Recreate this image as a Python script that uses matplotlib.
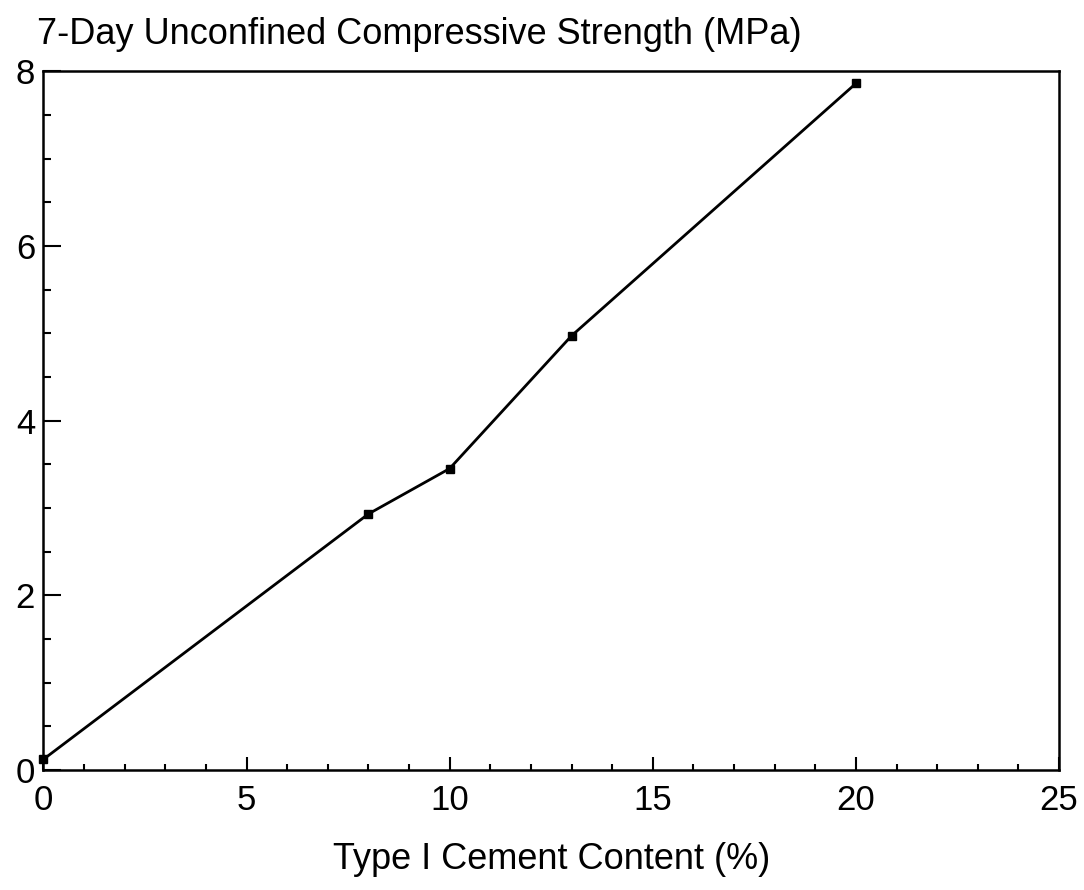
import matplotlib
matplotlib.use("Agg")
import matplotlib.pyplot as plt
from matplotlib.ticker import MultipleLocator

# Data
cement_pct = [0, 8, 10, 13, 20]
ucs_mpa = [0.12, 2.93, 3.45, 4.97, 7.86]

x_ticks = [0, 5, 10, 15, 20, 25]
y_ticks = [0, 2, 4, 6, 8]

plt.rcParams["font.family"] = ["Liberation Sans", "DejaVu Sans"]

fig = plt.figure(figsize=(10.84, 8.9), dpi=100)
ax = fig.add_axes([0.040, 0.135, 0.937, 0.785])

ax.plot(cement_pct, ucs_mpa, color="black", lw=2.0,
        marker="s", markersize=6, markerfacecolor="black",
        markeredgecolor="black", clip_on=False, zorder=3)

ax.set_xlim(0, 25)
ax.set_ylim(0, 8)
ax.set_xticks(x_ticks)
ax.set_yticks(y_ticks)
ax.xaxis.set_minor_locator(MultipleLocator(1))
ax.yaxis.set_minor_locator(MultipleLocator(0.5))

ax.tick_params(which="both", direction="in", top=False, right=False,
               labelsize=25, width=1.5, color="black")
ax.tick_params(axis="x", which="major", length=9.5, pad=10)
ax.tick_params(axis="x", which="minor", length=4)
ax.tick_params(axis="y", which="major", length=13, pad=6)
ax.tick_params(axis="y", which="minor", length=6)

for s in ax.spines.values():
    s.set_linewidth(1.8)

ax.set_xlabel("Type I Cement Content (%)", fontsize=26, labelpad=18)
fig.text(0.034, 0.961, "7-Day Unconfined Compressive Strength (MPa)",
         fontsize=26, ha="left", va="center")

fig.savefig("out.png", dpi=100, facecolor="white")
